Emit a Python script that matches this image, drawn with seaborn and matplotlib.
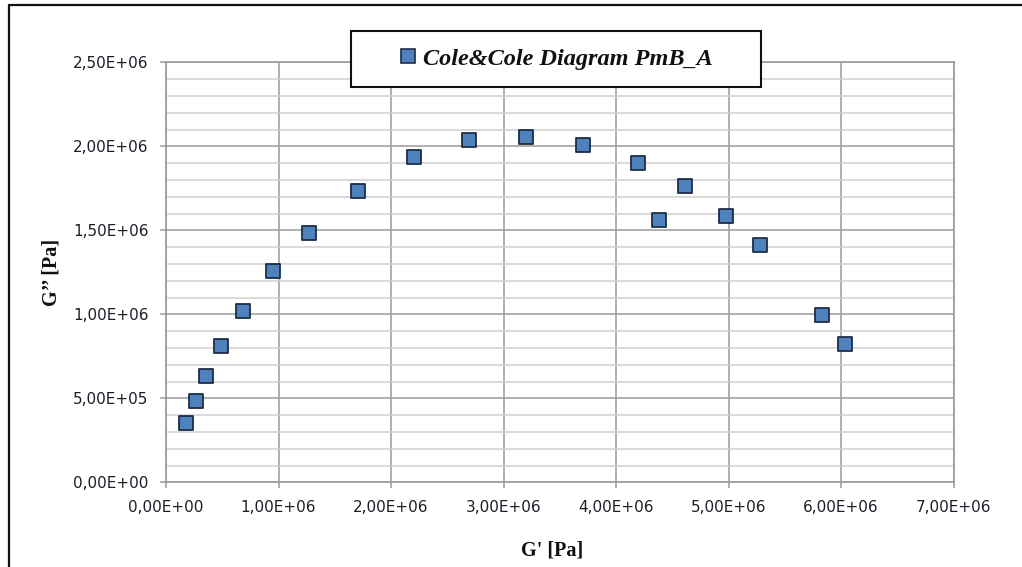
import matplotlib
matplotlib.use("Agg")
import matplotlib.pyplot as plt
import seaborn as sns
import pandas as pd
from matplotlib.ticker import MultipleLocator, FuncFormatter
from matplotlib.patches import Rectangle
from matplotlib.lines import Line2D

# Data (G' and G'' in Pa)
g_prime = [0.178e6, 0.267e6, 0.356e6, 0.489e6, 0.684e6, 0.951e6, 1.271e6, 1.707e6,
           2.204e6, 2.693e6, 3.20e6, 3.707e6, 4.196e6, 4.38e6, 4.613e6, 4.978e6,
           5.28e6, 5.83e6, 6.036e6]
g_double = [0.353e6, 0.484e6, 0.633e6, 0.811e6, 1.02e6, 1.258e6, 1.484e6, 1.734e6,
            1.936e6, 2.037e6, 2.055e6, 2.008e6, 1.901e6, 1.561e6, 1.764e6, 1.585e6,
            1.413e6, 0.997e6, 0.824e6]
series_name = "Cole&Cole Diagram PmB_A"

df = pd.DataFrame({"G'": g_prime, "G''": g_double, "series": series_name})

sns.set_theme(style="white")
plt.rcParams["font.family"] = ["DejaVu Sans"]
W, H = 1022, 567
fig = plt.figure(figsize=(W / 100, H / 100), dpi=100)
fig.patch.set_facecolor("white")

x0, x1 = 166, 953.5
y0, y1 = 482.3, 62.3
ax = fig.add_axes([x0 / W, 1 - y0 / H, (x1 - x0) / W, (y0 - y1) / H])

sns.scatterplot(data=df, x="G'", y="G''", ax=ax, marker="s", s=105,
                color="#4F81BD", edgecolor="#1c2e45", linewidth=1.3,
                legend=False, zorder=5, clip_on=False)

ax.set_xlim(0, 7e6)
ax.set_ylim(0, 2.5e6)
ax.xaxis.set_major_locator(MultipleLocator(1e6))
ax.yaxis.set_major_locator(MultipleLocator(5e5))
ax.yaxis.set_minor_locator(MultipleLocator(1e5))

fmt = FuncFormatter(lambda v, p: f"{v:.2E}".replace(".", ","))
ax.xaxis.set_major_formatter(fmt)
ax.yaxis.set_major_formatter(fmt)

ax.grid(True, which="major", axis="both", color="#9a9a9a", linewidth=1.1, zorder=0)
ax.grid(True, which="minor", axis="y", color="#cfcfcf", linewidth=1.1, zorder=0)
ax.set_axisbelow(True)

for side in ["left", "bottom", "top", "right"]:
    ax.spines[side].set_visible(True)
    ax.spines[side].set_color("#9a9a9a")
    ax.spines[side].set_linewidth(1.2)

ax.tick_params(axis="both", which="major", direction="out", length=4.5, width=1.1,
               color="#9a9a9a", labelsize=11, labelcolor="#1e1e28")
ax.tick_params(axis="x", which="major", pad=8, bottom=True)
ax.tick_params(axis="y", which="major", pad=8, left=True)
ax.tick_params(axis="y", which="minor", left=False)

ax.set_xlabel("G' [Pa]", fontfamily="Liberation Serif", fontweight="bold", fontsize=14.5,
              color="#111111")
ax.set_ylabel("G’’ [Pa]", fontfamily="Liberation Serif", fontweight="bold", fontsize=14.5,
              color="#111111")
ax.xaxis.set_label_coords((552 - x0) / (x1 - x0), (y0 - 540) / (y0 - y1))
ax.yaxis.set_label_coords((62 - x0) / (x1 - x0), 0.5)

# Legend box
lx0, lx1, ly0, ly1 = 350.5, 760.5, 31, 87
fig.patches.append(Rectangle((lx0 / W, 1 - ly1 / H), (lx1 - lx0) / W, (ly1 - ly0) / H,
                             transform=fig.transFigure, facecolor="white",
                             edgecolor="#111111", linewidth=1.5, zorder=10))
handle = Line2D([], [], marker="s", linestyle="none", markersize=10,
                markerfacecolor="#4F81BD", markeredgecolor="#1c2e45", markeredgewidth=1.2)
leg = fig.legend([handle], [series_name], loc="center",
                 bbox_to_anchor=((lx0 + lx1) / 2 / W, 1 - (ly0 + ly1) / 2 / H),
                 frameon=False, handlelength=0.8, handletextpad=0.25,
                 prop={"family": "Liberation Serif", "weight": "bold",
                       "style": "italic", "size": 17.5})
leg.set_zorder(11)
for t in leg.get_texts():
    t.set_color("#111111")

# Outer chart frame (left and top edges visible)
fig.add_artist(Line2D([9 / W, 9 / W], [0, 1 - 5 / H], transform=fig.transFigure,
                      color="#111111", linewidth=1.6))
fig.add_artist(Line2D([9 / W, 1], [1 - 5 / H, 1 - 5 / H], transform=fig.transFigure,
                      color="#111111", linewidth=1.6))

fig.savefig("out.png", dpi=100, facecolor="white")
